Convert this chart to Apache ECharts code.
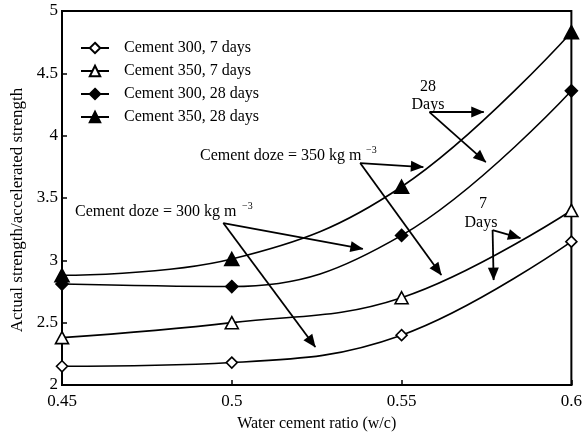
<!DOCTYPE html>
<html>
<head>
<meta charset="utf-8">
<script src="https://cdn.jsdelivr.net/npm/echarts@6/dist/echarts.min.js"></script>
<style>html,body{margin:0;padding:0;background:#fff}#c{width:585px;height:438px}</style>
</head>
<body>
<div id="c"></div>
<script>
// ---- data ----
var wcRatio = [0.45, 0.5, 0.55, 0.6];
var cement300_7d  = [2.15, 2.18, 2.40, 3.15];
var cement350_7d  = [2.38, 2.50, 2.70, 3.40];
var cement300_28d = [2.81, 2.79, 3.20, 4.36];
var cement350_28d = [2.88, 3.01, 3.59, 4.83];
var seriesNames = ['Cement 300, 7 days', 'Cement 350, 7 days', 'Cement 300, 28 days', 'Cement 350, 28 days'];
var xTicks = [0.45, 0.5, 0.55, 0.6];
var yTicks = [2, 2.5, 3, 3.5, 4, 4.5, 5];
// annotation arrows: [start, end] in data units
var arrows = [
  [[0.5378, 3.780], [0.5564, 3.748]],
  [[0.5378, 3.780], [0.5617, 2.882]],
  [[0.4975, 3.299], [0.5386, 3.091]],
  [[0.4975, 3.299], [0.5246, 2.305]],
  [[0.5582, 4.189], [0.5742, 4.189]],
  [[0.5582, 4.189], [0.5748, 3.788]],
  [[0.5768, 3.243], [0.5850, 3.179]],
  [[0.5768, 3.243], [0.5771, 2.842]]
];

var FONT = '"Liberation Serif", "Times New Roman", serif';
function pairs(ys) { return wcRatio.map(function (x, i) { return [x, ys[i]]; }); }

var styles = [
  {symbol: 'diamond', size: [11, 11], fill: '#fff'},
  {symbol: 'triangle', size: [13, 12], fill: '#fff'},
  {symbol: 'diamond', size: [12, 12], fill: '#000'},
  {symbol: 'triangle', size: [14, 13], fill: '#000'}
];
var allData = [cement300_7d, cement350_7d, cement300_28d, cement350_28d];

var series = allData.map(function (ys, i) {
  return {
    name: seriesNames[i],
    type: 'line',
    data: pairs(ys),
    smooth: 0.4,
    symbol: styles[i].symbol,
    symbolSize: styles[i].size,
    showAllSymbol: true,
    clip: false,
    lineStyle: {color: '#000', width: 1.6},
    itemStyle: {color: styles[i].fill, borderColor: '#000', borderWidth: 1.6},
    z: 3
  };
});
series.push({
  name: 'arrows',
  type: 'line',
  data: [],
  itemStyle: {color: '#000'},
  markLine: {
    silent: true,
    symbol: ['none', 'triangle'],
    symbolSize: [11, 13],
    label: {show: false},
    itemStyle: {color: '#000'},
    lineStyle: {color: '#000', width: 1.8, type: 'solid'},
    emphasis: {disabled: true},
    data: arrows.map(function (a) { return [{coord: a[0]}, {coord: a[1], symbolOffset: [0, 6]}]; })
  }
});

var chart = echarts.init(document.getElementById('c'), null, {renderer: 'canvas'});
chart.setOption({
  animation: false,
  backgroundColor: '#fff',
  grid: {left: 62, right: 9, top: 11, bottom: 53, show: true, borderColor: '#000', borderWidth: 2},
  legend: {
    orient: 'vertical',
    left: 75, top: 35,
    itemWidth: 28, itemHeight: 13, itemGap: 7,
    data: seriesNames,
    textStyle: {fontFamily: FONT, fontSize: 16, color: '#000', padding: [0, 0, 0, 10]}
  },
  xAxis: {
    type: 'value', min: xTicks[0], max: xTicks[xTicks.length - 1], interval: 0.05,
    name: 'Water cement ratio (w/c)', nameLocation: 'middle', nameGap: 31,
    nameTextStyle: {fontFamily: FONT, fontSize: 16, color: '#000'},
    axisLine: {lineStyle: {color: '#000', width: 2}},
    axisTick: {inside: true, length: 5, lineStyle: {color: '#000', width: 1.5}},
    axisLabel: {fontFamily: FONT, fontSize: 17, color: '#000', margin: 8,
      formatter: function (v) { return String(+v.toFixed(2)); }},
    splitLine: {show: false}
  },
  yAxis: {
    type: 'value', min: yTicks[0], max: yTicks[yTicks.length - 1], interval: 0.5,
    name: 'Actual strength/accelerated strength', nameLocation: 'middle', nameGap: 34,
    nameTextStyle: {fontFamily: FONT, fontSize: 17, color: '#000', padding: [0, 24, 0, 0]},
    axisLine: {lineStyle: {color: '#000', width: 2}},
    axisTick: {inside: true, length: 5, lineStyle: {color: '#000', width: 1.5}},
    axisLabel: {fontFamily: FONT, fontSize: 17, color: '#000', margin: 4,
      formatter: function (v) { return String(+v.toFixed(2)); }},
    splitLine: {show: false}
  },
  graphic: [
    {type: 'text', x: 200, y: 156, style: {text: 'Cement doze = 350 kg m', font: '16px ' + FONT, fill: '#000', textVerticalAlign: 'middle'}},
    {type: 'text', x: 366, y: 150, style: {text: '\u22123', font: '10px ' + FONT, fill: '#000', textVerticalAlign: 'middle'}},
    {type: 'text', x: 75, y: 212, style: {text: 'Cement doze = 300 kg m', font: '16px ' + FONT, fill: '#000', textVerticalAlign: 'middle'}},
    {type: 'text', x: 242, y: 206, style: {text: '\u22123', font: '10px ' + FONT, fill: '#000', textVerticalAlign: 'middle'}},
    {type: 'text', x: 428, y: 87, style: {text: '28', font: '16px ' + FONT, fill: '#000', textAlign: 'center', textVerticalAlign: 'middle'}},
    {type: 'text', x: 428, y: 105, style: {text: 'Days', font: '16px ' + FONT, fill: '#000', textAlign: 'center', textVerticalAlign: 'middle'}},
    {type: 'text', x: 483, y: 204, style: {text: '7', font: '16px ' + FONT, fill: '#000', textAlign: 'center', textVerticalAlign: 'middle'}},
    {type: 'text', x: 481, y: 223, style: {text: 'Days', font: '16px ' + FONT, fill: '#000', textAlign: 'center', textVerticalAlign: 'middle'}}
  ],
  series: series
});
</script>
</body>
</html>
